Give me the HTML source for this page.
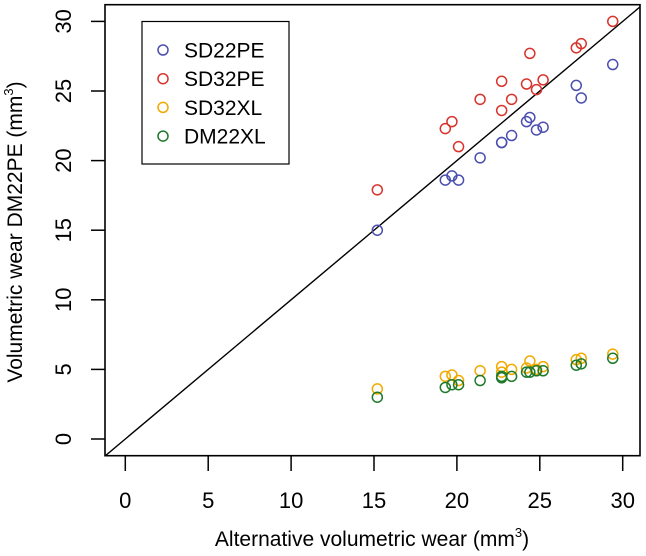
<!DOCTYPE html>
<html><head><meta charset="utf-8"><style>
body{margin:0;background:#fff}
svg{font-family:"Liberation Sans",Arial,sans-serif}
</style></head><body>
<svg width="646" height="551" viewBox="0 0 646 551">
<defs><clipPath id="pc"><rect x="105" y="4.7" width="535" height="451"/></clipPath></defs>
<g id="axes"></g>
<g id="marks" clip-path="url(#pc)"></g>
<rect x="105" y="4.7" width="535" height="451" fill="none" stroke="#000" stroke-width="1.6"/>
<g>
<rect x="142" y="21.5" width="147" height="142.5" fill="#fff" stroke="#000" stroke-width="1.2"/>
<g id="legend-items"></g>
</g>
<text x="372" y="546" font-size="21" text-anchor="middle">Alternative volumetric wear (mm<tspan dy="-9" font-size="13">3</tspan><tspan dy="9">)</tspan></text>
<text transform="translate(22,232) rotate(-90)" font-size="21" text-anchor="middle">Volumetric wear DM22PE (mm<tspan dy="-9" font-size="13">3</tspan><tspan dy="9">)</tspan></text>
</svg>
<script>
const xVals=[15.2,19.3,19.7,20.1,21.4,22.7,22.7,23.3,24.2,24.4,24.8,25.2,27.2,27.5,29.4];
const sd22pe=[15.0,18.6,18.9,18.6,20.2,21.3,21.3,21.8,22.8,23.1,22.2,22.4,25.4,24.5,26.9];
const sd32pe=[17.9,22.3,22.8,21.0,24.4,23.6,25.7,24.4,25.5,27.7,25.1,25.8,28.1,28.4,30.0];
const sd32xl=[3.6,4.5,4.6,4.2,4.9,5.2,4.8,5.0,5.1,5.6,5.0,5.2,5.7,5.8,6.1];
const dm22xl=[3.0,3.7,3.9,3.9,4.2,4.4,4.5,4.5,4.8,4.8,4.9,4.9,5.3,5.4,5.8];
const seriesNames=["SD22PE","SD32PE","SD32XL","DM22XL"];
const seriesColors=["#4a4fb0","#d8342c","#f2a900","#1f7a2c"];
const xTicks=[0,5,10,15,20,25,30];
const yTicks=[0,5,10,15,20,25,30];
const NS="http://www.w3.org/2000/svg";
const sx=v=>125.3+v*(497.4/30);
const sy=v=>439-v*(417.6/30);
const axes=document.getElementById('axes'),marks=document.getElementById('marks');
function mk(tag,attrs,parent){const e=document.createElementNS(NS,tag);for(const k in attrs)e.setAttribute(k,attrs[k]);parent.appendChild(e);return e;}
xTicks.forEach(t=>{
 const l=mk('line',{x1:sx(t),x2:sx(t),y1:456,y2:471,stroke:'#000','stroke-width':1.5},axes);
 
 
 const tx=mk('text',{x:sx(t),y:508,'font-size':22,'text-anchor':'middle'},axes);tx.textContent=t;
 
 
});
yTicks.forEach(t=>{
 const l=mk('line',{x1:91,x2:105,y1:sy(t),y2:sy(t),stroke:'#000','stroke-width':1.5},axes);
 
 
 const tx=mk('text',{transform:`translate(71,${sy(t)}) rotate(-90)`,'font-size':22,'text-anchor':'middle'},axes);tx.textContent=t;
 
 
});
const ref=mk('line',{x1:sx(-2),y1:sy(-2),x2:sx(32),y2:sy(32),stroke:'#000','stroke-width':1.4},marks);


[sd22pe,sd32pe,sd32xl,dm22xl].forEach((s,i)=>{
 s.forEach((v,j)=>{
  const c=mk('circle',{cx:sx(xVals[j]),cy:sy(v),r:5,fill:'none',stroke:seriesColors[i],'stroke-width':1.5},marks);
  
  
 });
});
const li=document.getElementById('legend-items');
seriesNames.forEach((n,i)=>{
 const y=50+i*28.7;
 const c=mk('circle',{cx:163,cy:y,r:5,fill:'none',stroke:seriesColors[i],'stroke-width':1.5},li);
 
 
 const t=mk('text',{x:184,y:y+7.5,'font-size':21},li);t.textContent=n;
 
 
});
</script>
</body></html>
